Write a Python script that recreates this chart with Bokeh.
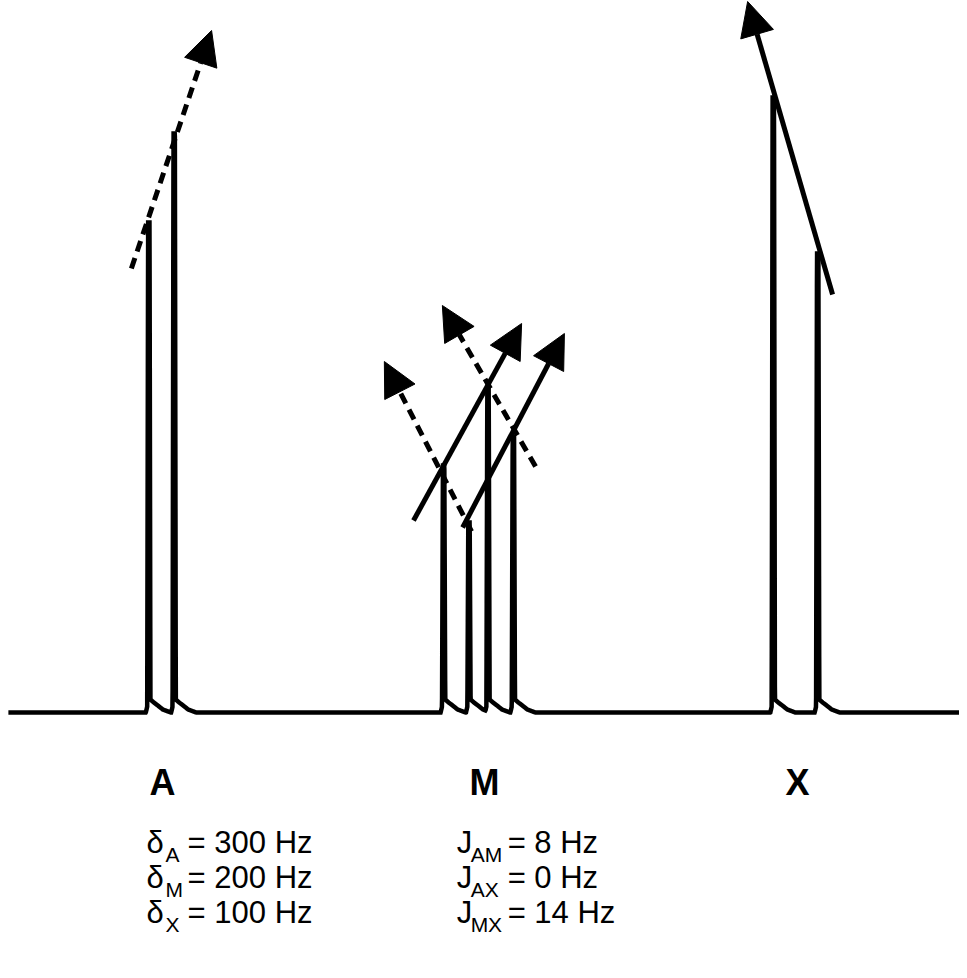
import numpy as np
from bokeh.plotting import figure
from bokeh.models import Range1d, Arrow, NormalHead
from bokeh.core.properties import value
from bokeh.embed import file_html
from bokeh.resources import INLINE

# ---------------- data ----------------
nuclei = ["A", "M", "X"]
shifts_hz = [300, 200, 100]

# individual lines of the first-order AMX spectrum (Hz, relative intensity)
peak_hz = [304, 296, 211, 203, 197, 189, 107, 93]
peak_height = [490, 579, 247, 190, 325, 276, 615, 459]

delta_symbol = ["δ", "δ", "δ"]
delta_subs = ["A", "M", "X"]
delta_values = ["= 300 Hz", "= 200 Hz", "= 100 Hz"]

j_symbol = ["J", "J", "J"]
j_subs = ["AM", "AX", "MX"]
j_values = ["= 8 Hz", "= 0 Hz", "= 14 Hz"]

# "roof" arrows (Hz, intensity)
arrow_x_start = [309.5, 88.3, 220.5, 205.0, 202.2, 182.0]
arrow_y_start = [444, 418, 192, 185, 181, 246]
arrow_x_end = [284.2, 115.1, 186.4, 172.9, 229.7, 211.4]
arrow_y_end = [682, 711, 389, 379, 351, 407]
arrow_dashed = [True, False, False, False, True, True]

# spectrum window (Hz)
spec_start_hz = 348.3
spec_end_hz = 40.0

# ---------------- layout ----------------
PX_PER_HZ = 3.17
W, H = 959, 962
x_left = 300 + 161 / PX_PER_HZ
x_right = x_left - W / PX_PER_HZ
y_top = 712
y_bot = y_top - H

p = figure(width=W, height=H, output_backend="svg", toolbar_location=None,
           x_range=Range1d(x_left, x_right), y_range=Range1d(y_bot, y_top),
           x_axis_location=None, y_axis_location=None,
           min_border=0, min_border_left=0, min_border_right=0,
           min_border_top=0, min_border_bottom=0)
p.grid.visible = False
p.outline_line_color = None
p.background_fill_color = "white"
p.border_fill_color = "white"

# spectrum trace: each line drawn as a narrow spike with a small tail
prof_px = np.array([-3.0, -1.6, -0.7, 0.7, 1.6, 5.0, 9.0, 14.0, 22.0])
def profile(h):
    return np.array([0.0, 6.0, h, h, 13.0, 10.0, 7.0, 3.0, 0.0])

grid = np.linspace(spec_start_hz, spec_end_hz, 6000)
trace = np.zeros_like(grid)
for f, h in zip(peak_hz, peak_height):
    offs_hz = f - prof_px / PX_PER_HZ          # reversed axis
    xs = offs_hz[::-1]
    ys = profile(h)[::-1]
    trace = np.maximum(trace, np.interp(grid, xs, ys, left=0.0, right=0.0))

p.line(grid, trace, line_color="black", line_width=4.5, line_join="miter")

# arrows
for xs, ys, xe, ye, dashed in zip(arrow_x_start, arrow_y_start, arrow_x_end,
                                  arrow_y_end, arrow_dashed):
    p.add_layout(Arrow(x_start=xs, y_start=ys, x_end=xe, y_end=ye,
                       line_width=5, line_color="black",
                       line_dash="11 7" if dashed else "solid",
                       end=NormalHead(size=34, fill_color="black",
                                      line_color="black", line_width=1)))

FONT = "Liberation Sans"

# nucleus labels
p.text(x=shifts_hz, y=[-70] * 3, text=nuclei, text_font=value(FONT),
       text_font_style="bold", text_font_size="36px", text_align="center",
       text_baseline="alphabetic", text_color="black",
       x_offset=[1, 6, 2])

# chemical shift / coupling constant lines
col1_x = 304.7
col2_x = 206.9
line_y = [-130, -165, -200]

p.text(x=[col1_x] * 3, y=line_y, text=delta_symbol, text_font=value(FONT),
       text_font_size="31px", text_baseline="alphabetic", text_color="black")
p.text(x=[col1_x] * 3, y=line_y, text=delta_subs, text_font=value(FONT),
       text_font_size="21px", text_baseline="alphabetic", text_color="black",
       x_offset=19, y_offset=12)
p.text(x=[col1_x] * 3, y=line_y, text=delta_values, text_font=value(FONT),
       text_font_size="31px", text_baseline="alphabetic", text_color="black",
       x_offset=41)

p.text(x=[col2_x] * 3, y=line_y, text=j_symbol, text_font=value(FONT),
       text_font_size="31px", text_baseline="alphabetic", text_color="black")
p.text(x=[col2_x] * 3, y=line_y, text=j_subs, text_font=value(FONT),
       text_font_size="21px", text_baseline="alphabetic", text_color="black",
       x_offset=14, y_offset=12)
p.text(x=[col2_x] * 3, y=line_y, text=j_values, text_font=value(FONT),
       text_font_size="31px", text_baseline="alphabetic", text_color="black",
       x_offset=51)

open("out.html", "w").write(file_html(p, INLINE))
